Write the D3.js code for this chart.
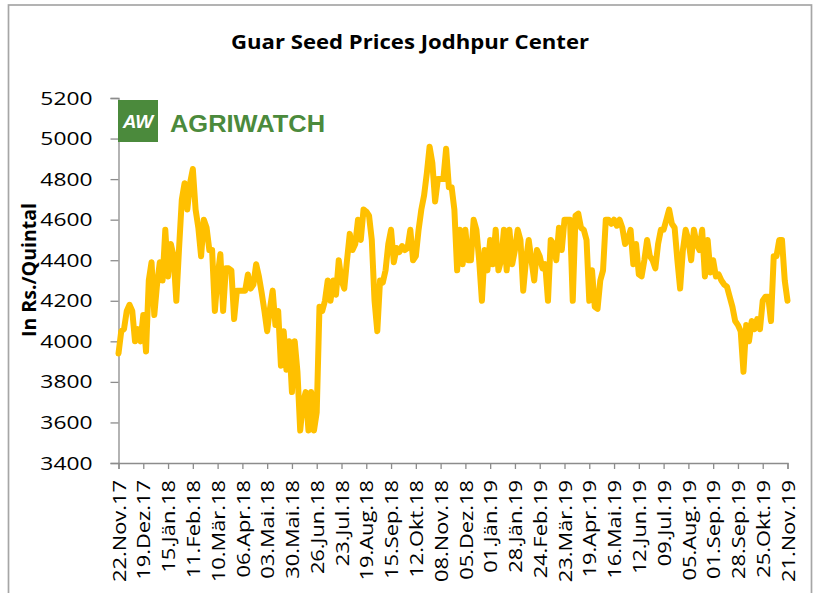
<!DOCTYPE html>
<html>
<head>
<meta charset="utf-8">
<script src="https://cdn.jsdelivr.net/npm/d3@7"></script>
<style>
	body { margin: 0; background: #fff; }
	svg { display: block; font-family: "Open Sans", sans-serif; }
</style>
</head>
<body>
<script>
// Chart size
let width = 814,
	height = 593;

// prices, one value every 3 days from 22.Nov.17
const startDate = "2017-11-22";
const stepDays = 3;
const prices = [
	3940, 4050, 4060, 4150, 4180, 4150, 4000, 4060, 4000, 4130,
	3950, 4300, 4390, 4130, 4280, 4390, 4300, 4550, 4320, 4480,
	4420, 4200, 4460, 4700, 4780, 4650, 4780, 4850, 4650, 4560,
	4420, 4600, 4560, 4450, 4450, 4150, 4320, 4430, 4150, 4360,
	4360, 4350, 4110, 4250, 4250, 4250, 4250, 4330, 4260, 4280,
	4380, 4320, 4240, 4150, 4050, 4160, 4250, 4080, 4150, 3880,
	4050, 3860, 4000, 3750, 4000, 3850, 3560, 3700, 3750, 3560,
	3750, 3560, 3650, 4170, 4150, 4200, 4300, 4200, 4300, 4230,
	4400, 4300, 4260, 4400, 4530, 4450, 4480, 4600, 4500, 4650,
	4640, 4620, 4500, 4200, 4050, 4300, 4290, 4350, 4480, 4550,
	4390, 4460, 4440, 4470, 4450, 4460, 4550, 4400, 4420, 4550,
	4650, 4720, 4830, 4960, 4880, 4690, 4800, 4800, 4800, 4950,
	4760, 4760, 4650, 4350, 4550, 4380, 4550, 4400, 4400, 4600,
	4550, 4400, 4200, 4450, 4350, 4500, 4380, 4550, 4350, 4400,
	4550, 4350, 4550, 4380, 4450, 4550, 4500, 4250, 4400, 4500,
	4400, 4300, 4450, 4420, 4360, 4380, 4200, 4500, 4480, 4400,
	4560, 4450, 4600, 4600, 4600, 4200, 4620, 4630, 4560, 4550,
	4500, 4200, 4350, 4170, 4160, 4300, 4350, 4600, 4600, 4580,
	4600, 4570, 4600, 4560, 4480, 4500, 4550, 4380, 4480, 4330,
	4320, 4400, 4500, 4420, 4400, 4360, 4480, 4550, 4550, 4600,
	4650, 4580, 4560, 4400, 4260, 4450, 4550, 4500, 4400, 4550,
	4480, 4450, 4550, 4320, 4500, 4340, 4400, 4320, 4330, 4300,
	4280, 4270, 4220, 4170, 4100, 4080, 4050, 3850, 4080, 4000,
	4100, 4060, 4110, 4060, 4200, 4220, 4220, 4100, 4420, 4420,
	4500, 4500, 4300, 4200
];

// x axis labels, every 27 days
const tickLabels = [
	"22.Nov.17", "19.Dez.17", "15.Jän.18", "11.Feb.18", "10.Mär.18", "06.Apr.18", "03.Mai.18",
	"30.Mai.18", "26.Jun.18", "23.Jul.18", "19.Aug.18", "15.Sep.18", "12.Okt.18", "08.Nov.18",
	"05.Dez.18", "01.Jän.19", "28.Jän.19", "24.Feb.19", "23.Mär.19", "19.Apr.19", "16.Mai.19",
	"12.Jun.19", "09.Jul.19", "05.Aug.19", "01.Sep.19", "28.Sep.19", "25.Okt.19", "21.Nov.19"
];
const tickStepDays = 27;
const yTicks = [3400, 3600, 3800, 4000, 4200, 4400, 4600, 4800, 5000, 5200];

const parseDate = d3.timeParse("%Y-%m-%d");
const start = parseDate(startDate);

let data = prices.map(function(p, i) {
	return {date: d3.timeDay.offset(start, i * stepDays), price: p};
});
let tickDates = tickLabels.map(function(l, i) {
	return d3.timeDay.offset(start, i * tickStepDays);
});

// the original text is a wider face, so stretch ours along the baseline
var stretch = function(sel, k) {
	sel.each(function() {
		let w = this.getComputedTextLength();
		d3.select(this)
			.attr("textLength", w * k)
			.attr("lengthAdjust", "spacingAndGlyphs");
	});
}

// plot area
let plot = {left: 118.5, right: 787.5, top: 98, bottom: 463};

let svg = d3.select("body").append("svg")
	.attr("width", width)
	.attr("height", height);

// outer frame
svg.append("rect")
	.attr("x", 8.5)
	.attr("y", 5)
	.attr("width", 803)
	.attr("height", 640)
	.attr("fill", "none")
	.attr("stroke", "#a6a6a6")
	.attr("stroke-width", 1.7);

const xScale = d3.scaleTime()
	.domain([tickDates[0], tickDates[tickDates.length - 1]])
	.range([plot.left, plot.right]);

const yScale = d3.scaleLinear()
	.domain([3400, 5200])
	.range([plot.bottom, plot.top]);

// y axis
let yAxis = d3.axisLeft(yScale)
	.tickValues(yTicks)
	.tickSize(8)
	.tickPadding(18)
	.tickFormat(d3.format("d"));

let gy = svg.append("g")
	.attr("transform", "translate(" + plot.left + ",0)")
	.call(yAxis);
gy.select(".domain").attr("stroke", "#8c8c8c").attr("stroke-width", 1.3);
gy.selectAll(".tick line").attr("stroke", "#8c8c8c").attr("stroke-width", 1.3);
gy.selectAll(".tick text")
	.attr("font-family", "Open Sans")
	.attr("font-size", 19)
	.attr("fill", "#000")
	.call(stretch, 1.2);

// x axis
let xAxis = d3.axisBottom(xScale)
	.tickValues(tickDates)
	.tickSize(6)
	.tickFormat(function(d, i) { return tickLabels[i]; });

let gx = svg.append("g")
	.attr("transform", "translate(0," + plot.bottom + ")")
	.call(xAxis);
gx.select(".domain").attr("stroke", "#8c8c8c").attr("stroke-width", 1.3);
gx.selectAll(".tick line").attr("stroke", "#8c8c8c").attr("stroke-width", 1.3);
gx.selectAll(".tick text")
	.attr("font-family", "Open Sans")
	.attr("font-size", 19)
	.attr("fill", "#000")
	.attr("transform", "rotate(-90)")
	.attr("text-anchor", "end")
	.attr("x", -17)
	.attr("y", 0)
	.attr("dy", "0.35em")
	.call(stretch, 1.15);

// price line
let line = d3.line()
	.x(function(d) { return xScale(d.date); })
	.y(function(d) { return yScale(d.price); });

svg.append("path")
	.datum(data)
	.attr("d", line)
	.attr("fill", "none")
	.attr("stroke", "#FFC000")
	.attr("stroke-width", 6)
	.attr("stroke-linejoin", "round")
	.attr("stroke-linecap", "round");

// title
svg.append("text")
	.attr("x", 410)
	.attr("y", 49)
	.attr("text-anchor", "middle")
	.attr("font-family", "Open Sans")
	.attr("font-weight", "bold")
	.attr("font-size", 19)
	.attr("textLength", 358)
	.attr("lengthAdjust", "spacingAndGlyphs")
	.text("Guar Seed Prices Jodhpur Center");

// y axis label
svg.append("text")
	.attr("transform", "translate(36,270) rotate(-90)")
	.attr("text-anchor", "middle")
	.attr("font-family", "Open Sans")
	.attr("font-weight", "bold")
	.attr("font-size", 20)
	.attr("textLength", 134)
	.attr("lengthAdjust", "spacingAndGlyphs")
	.text("In Rs./Quintal");

// logo, drawn on top of the axis
let logo = svg.append("g");
logo.append("rect")
	.attr("x", 118)
	.attr("y", 100)
	.attr("width", 40)
	.attr("height", 42)
	.attr("fill", "#4b8a3c");
logo.append("text")
	.attr("x", 138)
	.attr("y", 128)
	.attr("text-anchor", "middle")
	.attr("font-family", "Liberation Sans")
	.attr("font-weight", "bold")
	.attr("font-style", "italic")
	.attr("font-size", 19)
	.attr("fill", "#fff")
	.text("AW");
logo.append("text")
	.attr("x", 170)
	.attr("y", 132)
	.attr("font-family", "Liberation Sans")
	.attr("font-weight", "bold")
	.attr("font-size", 24)
	.attr("textLength", 155)
	.attr("lengthAdjust", "spacingAndGlyphs")
	.attr("fill", "#4b8a3c")
	.text("AGRIWATCH");
</script>
</body>
</html>
